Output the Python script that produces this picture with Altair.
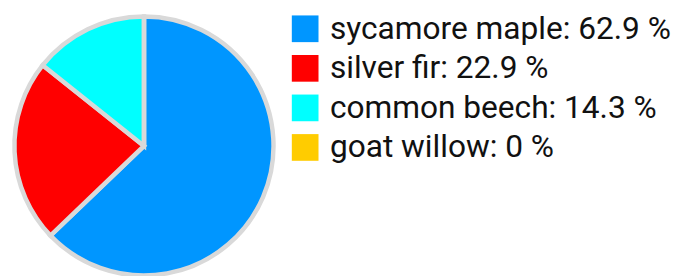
import altair as alt
import pandas as pd

species = ["sycamore maple", "silver fir", "common beech", "goat willow"]
shares = [62.9, 22.9, 14.3, 0.0]
colors = ["#0096ff", "#ff0000", "#00ffff", "#ffcc00"]

labels = [f"{s}: {v:g} %" for s, v in zip(species, shares)]
df = pd.DataFrame({"label": labels, "share": shares, "order": list(range(len(labels)))})

chart = alt.Chart(df).mark_arc(
    outerRadius=131, stroke="#d9d9d9", strokeWidth=4.5
).encode(
    theta=alt.Theta("share:Q", stack=True),
    order=alt.Order("order:Q"),
    color=alt.Color(
        "label:N",
        scale=alt.Scale(domain=labels, range=colors),
        sort=labels,
        legend=alt.Legend(
            title=None,
            orient="none",
            legendX=279,
            legendY=-2.5,
            symbolType="square",
            symbolSize=729,
            symbolStrokeWidth=0,
            labelFont="Roboto",
            labelFontSize=32,
            labelColor="#111111",
            labelOffset=9,
            rowPadding=8,
            labelLimit=500,
            padding=0,
        ),
    ),
).properties(
    width=264, height=264,
    padding={"left": 5.5, "top": 6, "right": 405, "bottom": 0},
    autosize=alt.AutoSizeParams(type="none"),
).configure_view(stroke=None)

chart.save("out.html", embed_options={"renderer": "svg", "actions": False})
